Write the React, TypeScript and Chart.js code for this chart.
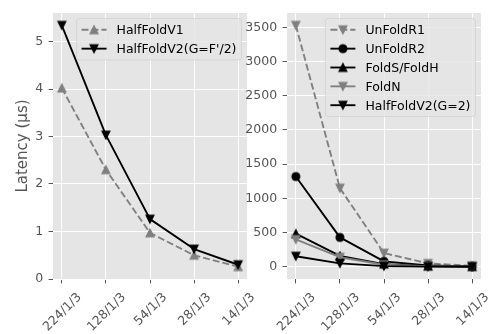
import React, { useEffect, useRef } from 'react';
import { Chart, registerables } from 'chart.js';

Chart.register(...registerables);

// ---------- data ----------
const categories = ['224/1/3', '128/1/3', '54/1/3', '28/1/3', '14/1/3'];

const halfFoldV1 = [4.02, 2.3, 0.97, 0.5, 0.26];
const halfFoldV2F = [5.34, 3.03, 1.26, 0.63, 0.3];

const unFoldR1 = [3530, 1150, 200, 50, 15];
const unFoldR2 = [1320, 430, 80, 20, 6];
const foldSH = [485, 160, 40, 10, 3];
const foldN = [400, 140, 30, 8, 2];
const halfFoldV2G2 = [155, 50, 10, 3, 1];

const leftYTicks = [0, 1, 2, 3, 4, 5];
const rightYTicks = [0, 500, 1000, 1500, 2000, 2500, 3000, 3500];
const yAxisLabel = 'Latency (μs)';

// ---------- style ----------
const GRAY = '#808080';
const BLACK = '#000000';
const TICK_COLOR = '#555555';
const BG = '#E5E5E5';
const FONT = '"DejaVu Sans", sans-serif';
const FS = 12.5;
const LW = 1.875;
const DASH = [6.94, 3.0];

type Shape = 'up' | 'down' | 'circle';

function makeMarker(shape: Shape, color: string): HTMLCanvasElement {
  const c = document.createElement('canvas');
  c.width = 14;
  c.height = 14;
  const g = c.getContext('2d')!;
  const cx = 7, cy = 7, s = 3.9;
  g.fillStyle = color;
  g.strokeStyle = color;
  g.lineWidth = 1.25;
  g.lineJoin = 'miter';
  g.beginPath();
  if (shape === 'circle') {
    g.arc(cx, cy, s, 0, Math.PI * 2);
  } else if (shape === 'up') {
    g.moveTo(cx, cy - s);
    g.lineTo(cx - s, cy + s);
    g.lineTo(cx + s, cy + s);
    g.closePath();
  } else {
    g.moveTo(cx, cy + s);
    g.lineTo(cx - s, cy - s);
    g.lineTo(cx + s, cy - s);
    g.closePath();
  }
  g.fill();
  g.stroke();
  return c;
}

const bgPlugin = {
  id: 'mplBg',
  beforeDraw(chart: any) {
    const { ctx, chartArea: a } = chart;
    ctx.save();
    ctx.fillStyle = BG;
    ctx.fillRect(a.left, a.top, a.right - a.left, a.bottom - a.top);
    ctx.restore();
  },
};

const xLabelPlugin = {
  id: 'mplXLabels',
  afterDraw(chart: any) {
    const { ctx, chartArea: a } = chart;
    const xs = chart.scales.x;
    ctx.save();
    ctx.font = `${FS}px ${FONT}`;
    ctx.fillStyle = TICK_COLOR;
    ctx.textAlign = 'center';
    ctx.textBaseline = 'alphabetic';
    const y0 = a.bottom + 4.4 + 4.4;
    const h = 1.17 * FS;
    categories.forEach((lab, i) => {
      const w = ctx.measureText(lab).width;
      const bh = (w + h) * Math.SQRT1_2;
      const cx = xs.getPixelForValue(i);
      const cy = y0 + bh / 2 + 1.5;
      ctx.save();
      ctx.translate(cx, cy);
      ctx.rotate(-Math.PI / 4);
      ctx.fillText(lab, 0, 0.346 * FS);
      ctx.restore();
    });
    ctx.restore();
  },
};

const legendPlugin = {
  id: 'mplLegend',
  afterDraw(chart: any) {
    const { ctx, chartArea: a } = chart;
    const ds = chart.data.datasets;
    ctx.save();
    ctx.font = `${FS}px ${FONT}`;
    const maxW = Math.max(...ds.map((d: any) => ctx.measureText(d.label).width));
    const pad = 0.4 * FS, handle = 2 * FS, textPad = 0.8 * FS, rowH = 12.6, spacing = 0.5 * FS;
    const n = ds.length;
    const w = pad * 2 + handle + textPad + maxW;
    const h = pad * 2 + n * rowH + (n - 1) * spacing;
    const x = a.right - 5.5 - w;
    const y = a.top + 5.5;
    const r = 2.5;
    ctx.beginPath();
    ctx.moveTo(x + r, y);
    ctx.lineTo(x + w - r, y);
    ctx.arcTo(x + w, y, x + w, y + r, r);
    ctx.lineTo(x + w, y + h - r);
    ctx.arcTo(x + w, y + h, x + w - r, y + h, r);
    ctx.lineTo(x + r, y + h);
    ctx.arcTo(x, y + h, x, y + h - r, r);
    ctx.lineTo(x, y + r);
    ctx.arcTo(x, y, x + r, y, r);
    ctx.closePath();
    ctx.fillStyle = 'rgba(229,229,229,0.8)';
    ctx.fill();
    ctx.lineWidth = 0.8;
    ctx.strokeStyle = 'rgba(204,204,204,0.8)';
    ctx.stroke();
    ds.forEach((d: any, i: number) => {
      const cy = y + pad + i * (rowH + spacing) + rowH / 2;
      const hx = x + pad;
      ctx.save();
      ctx.strokeStyle = d.borderColor;
      ctx.lineWidth = LW;
      ctx.setLineDash(d.borderDash || []);
      ctx.beginPath();
      ctx.moveTo(hx, cy);
      ctx.lineTo(hx + handle, cy);
      ctx.stroke();
      ctx.restore();
      const m = d.pointStyle as HTMLCanvasElement;
      ctx.drawImage(m, hx + handle / 2 - m.width / 2, cy - m.height / 2);
      ctx.fillStyle = '#000000';
      ctx.textAlign = 'left';
      ctx.textBaseline = 'alphabetic';
      ctx.fillText(d.label, hx + handle + textPad, cy + 0.35 * FS);
    });
    ctx.restore();
  },
};

const yLabelPlugin = {
  id: 'mplYLabel',
  afterDraw(chart: any) {
    if (!chart.options.plugins.mplYLabel || !chart.options.plugins.mplYLabel.show) return;
    const { ctx, chartArea: a } = chart;
    ctx.save();
    ctx.font = `15px ${FONT}`;
    ctx.fillStyle = TICK_COLOR;
    ctx.textAlign = 'center';
    ctx.textBaseline = 'alphabetic';
    ctx.translate(27.4, (a.top + a.bottom) / 2);
    ctx.rotate(-Math.PI / 2);
    ctx.fillText(yAxisLabel, 0, 0);
    ctx.restore();
  },
};

interface SeriesSpec {
  label: string;
  values: number[];
  color: string;
  dashed: boolean;
  marker: HTMLCanvasElement;
}

function buildChart(
  canvas: HTMLCanvasElement,
  series: SeriesSpec[],
  yMin: number,
  yMax: number,
  yTicks: number[],
  yAxisWidth: number,
  padRight: number,
  showYLabel: boolean
) {
  const datasets = series.map((s, idx) => ({
    label: s.label,
    data: s.values.map((v, i) => ({ x: i, y: v })),
    borderColor: s.color,
    backgroundColor: s.color,
    borderWidth: LW,
    borderDash: s.dashed ? DASH : [],
    borderJoinStyle: 'round' as const,
    pointStyle: s.marker,
    pointRadius: 5,
    pointHoverRadius: 5,
    tension: 0,
    order: -idx,
  }));
  return new Chart(canvas, {
    type: 'line',
    data: { datasets },
    options: {
      animation: false,
      responsive: false,
      events: [],
      layout: { padding: { left: 0, top: 1, right: padRight, bottom: 0 }, autoPadding: false },
      plugins: {
        legend: { display: false },
        tooltip: { enabled: false },
        mplYLabel: { show: showYLabel },
      } as any,
      scales: {
        x: {
          type: 'linear',
          min: -0.2,
          max: 4.2,
          afterBuildTicks: (s: any) => {
            s.ticks = categories.map((_, i) => ({ value: i }));
          },
          afterFit: (s: any) => {
            s.height = 55;
          },
          ticks: { display: false },
          grid: { color: '#ffffff', lineWidth: 1, drawTicks: true, tickLength: 4.4, tickColor: TICK_COLOR, tickWidth: 1 },
          border: { display: false },
        },
        y: {
          type: 'linear',
          min: yMin,
          max: yMax,
          afterBuildTicks: (s: any) => {
            s.ticks = yTicks.map((v) => ({ value: v }));
          },
          afterFit: (s: any) => {
            s.width = yAxisWidth;
          },
          ticks: {
            color: TICK_COLOR,
            font: { family: FONT, size: FS },
            padding: 5.5,
            callback: (v: any) => String(v),
          },
          grid: { color: '#ffffff', lineWidth: 1, drawTicks: true, tickLength: 4.4, tickColor: TICK_COLOR, tickWidth: 1 },
          border: { display: false },
        },
      },
    },
    plugins: [bgPlugin, xLabelPlugin, legendPlugin, yLabelPlugin],
  } as any);
}

export default function App() {
  const leftRef = useRef<HTMLCanvasElement>(null);
  const rightRef = useRef<HTMLCanvasElement>(null);

  useEffect(() => {
    Chart.defaults.font.family = FONT;
    const upGray = makeMarker('up', GRAY);
    const upBlack = makeMarker('up', BLACK);
    const downGray = makeMarker('down', GRAY);
    const downBlack = makeMarker('down', BLACK);
    const circleBlack = makeMarker('circle', BLACK);

    const left = buildChart(
      leftRef.current!,
      [
        { label: 'HalfFoldV1', values: halfFoldV1, color: GRAY, dashed: true, marker: upGray },
        { label: "HalfFoldV2(G=F'/2)", values: halfFoldV2F, color: BLACK, dashed: false, marker: downBlack },
      ],
      0,
      5.6,
      leftYTicks,
      53,
      43,
      true
    );
    const right = buildChart(
      rightRef.current!,
      [
        { label: 'UnFoldR1', values: unFoldR1, color: GRAY, dashed: true, marker: downGray },
        { label: 'UnFoldR2', values: unFoldR2, color: BLACK, dashed: false, marker: circleBlack },
        { label: 'FoldS/FoldH', values: foldSH, color: BLACK, dashed: false, marker: upBlack },
        { label: 'FoldN', values: foldN, color: GRAY, dashed: false, marker: downGray },
        { label: 'HalfFoldV2(G=2)', values: halfFoldV2G2, color: BLACK, dashed: false, marker: downBlack },
      ],
      -178,
      3710,
      rightYTicks,
      57,
      7,
      false
    );
    return () => {
      left.destroy();
      right.destroy();
    };
  }, []);

  return (
    <div style={{ position: 'absolute', left: 0, top: 0, width: 488, height: 334, overflow: 'hidden', background: '#ffffff' }}>
      <canvas
        ref={leftRef}
        width={290}
        height={334}
        style={{ position: 'absolute', left: 0, top: 0, width: 290, height: 334 }}
      />
      <canvas
        ref={rightRef}
        width={258}
        height={334}
        style={{ position: 'absolute', left: 230, top: 0, width: 258, height: 334 }}
      />
    </div>
  );
}
